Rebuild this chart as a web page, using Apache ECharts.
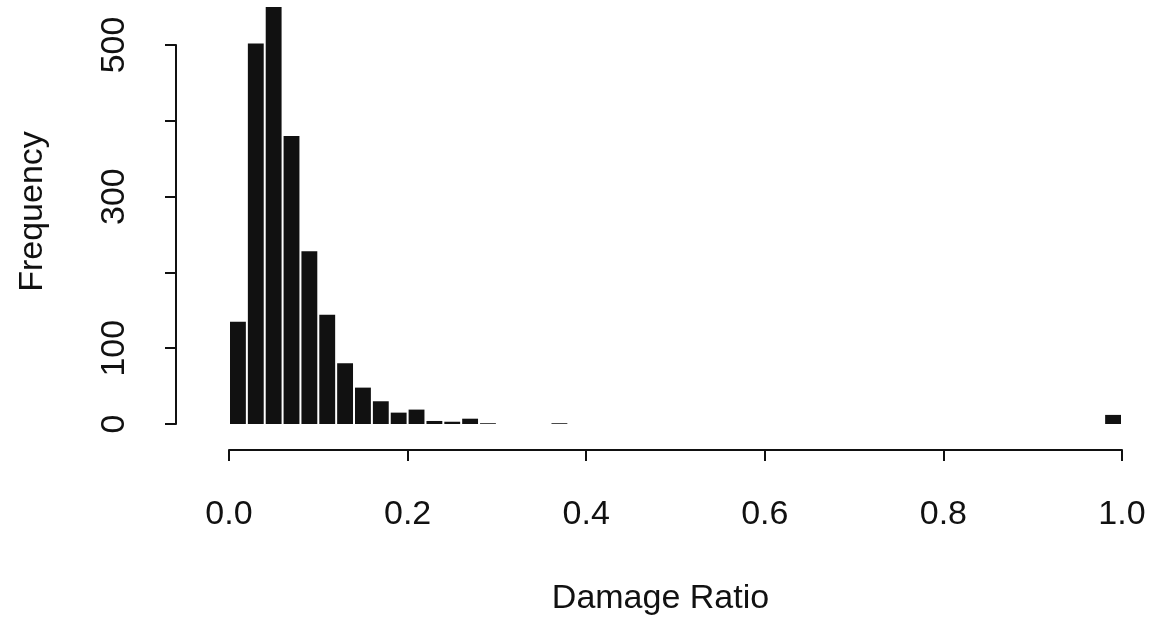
<!DOCTYPE html>
<html>
<head>
<meta charset="utf-8">
<script src="https://cdn.jsdelivr.net/npm/echarts@6/dist/echarts.min.js"></script>
<style>
html, body { margin: 0; padding: 0; background: #fff; }
#picture { width: 1151px; height: 621px; }
</style>
</head>
<body>
<div id="picture"></div>
<script>
// histogram of damage ratio, bins of width 0.02 from 0.0 to 1.0
var binWidth = 0.02;
var counts = [135, 502, 550, 380, 228, 144, 80, 48, 30, 15,
              19, 4, 3, 7, 1, 0, 0, 0, 1, 0,
              0, 0, 0, 0, 0, 0, 0, 0, 0, 0,
              0, 0, 0, 0, 0, 0, 0, 0, 0, 0,
              0, 0, 0, 0, 0, 0, 0, 0, 0, 12];
var xTicks = [0.0, 0.2, 0.4, 0.6, 0.8, 1.0];
var yTickLabels = {0: '0', 100: '100', 300: '300', 500: '500'};

var font = "'Liberation Sans', Arial, sans-serif";

var bins = [];
for (var i = 0; i < counts.length; i++) {
    bins.push([i * binWidth, (i + 1) * binWidth, counts[i]]);
}

var myChart = echarts.init(document.getElementById('picture'));
var option = {
    backgroundColor: '#ffffff',
    animation: false,
    grid: {
        left: 229,
        right: 29,
        top: 45,
        bottom: 197
    },
    xAxis: {
        type: 'value',
        min: xTicks[0],
        max: xTicks[xTicks.length - 1],
        interval: 0.2,
        offset: 26,
        name: 'Damage Ratio',
        nameLocation: 'middle',
        nameGap: 132,
        nameTextStyle: {
            fontFamily: font,
            fontSize: 34,
            color: '#111',
            padding: [0, 30, 0, 0]
        },
        splitLine: { show: false },
        axisLine: { onZero: false, lineStyle: { color: '#111', width: 2 } },
        axisTick: { length: 11, lineStyle: { color: '#111', width: 2 } },
        axisLabel: {
            margin: 48,
            fontFamily: font,
            fontSize: 34,
            color: '#111',
            formatter: function (v) { return v.toFixed(1); }
        }
    },
    yAxis: {
        type: 'value',
        min: 0,
        max: 500,
        interval: 100,
        offset: 53,
        name: 'Frequency',
        nameLocation: 'middle',
        nameGap: 126,
        nameTextStyle: {
            fontFamily: font,
            fontSize: 34,
            color: '#111',
            padding: [0, 0, 0, 46]
        },
        splitLine: { show: false },
        axisLine: { show: true, onZero: false, lineStyle: { color: '#111', width: 2 } },
        axisTick: { show: true, length: 11, lineStyle: { color: '#111', width: 2 } },
        axisLabel: {
            rotate: 90,
            margin: 44,
            fontFamily: font,
            fontSize: 34,
            color: '#111',
            formatter: function (v) { return yTickLabels[v] || ''; }
        }
    },
    series: [
        {
            type: 'custom',
            clip: false,
            data: bins,
            renderItem: function (params, api) {
                var p0 = api.coord([api.value(0), 0]);
                var p1 = api.coord([api.value(1), api.value(2)]);
                return {
                    type: 'rect',
                    shape: {
                        x: p0[0] + 1,
                        y: p1[1],
                        width: p1[0] - p0[0] - 2,
                        height: p0[1] - p1[1]
                    },
                    style: { fill: '#111' }
                };
            }
        }
    ]
};
myChart.setOption(option);
</script>
</body>
</html>
